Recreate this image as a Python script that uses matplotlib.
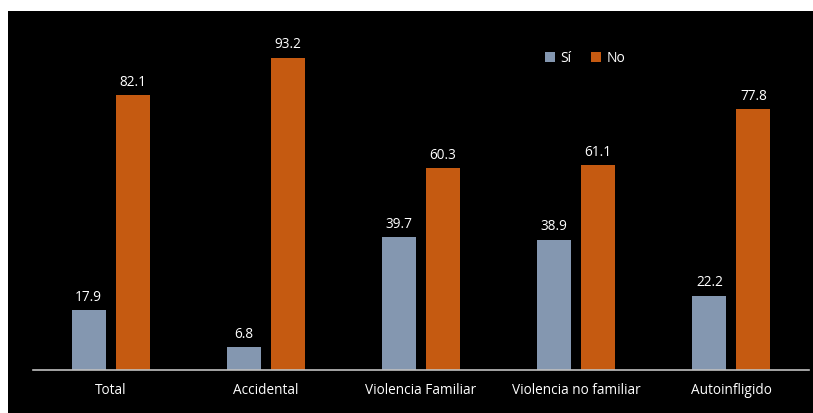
import matplotlib
matplotlib.use("Agg")
import matplotlib.pyplot as plt
import matplotlib.patches as mpatches
import numpy as np

categories = ["Total", "Accidental", "Violencia Familiar", "Violencia no familiar", "Autoinfligido"]
si_values = [17.9, 6.8, 39.7, 38.9, 22.2]
no_values = [82.1, 93.2, 60.3, 61.1, 77.8]
series_names = ["Sí", "No"]

plt.rcParams['font.family'] = ['Open Sans', 'DejaVu Sans']

W, H = 813, 413
fig = plt.figure(figsize=(W/100, H/100), dpi=100, facecolor="white")
# black background panel
fig.patches.append(mpatches.Rectangle((8/W, 0), 1 - 8/W, 1 - 11/H, transform=fig.transFigure,
                                      facecolor="black", edgecolor="none", zorder=-10))

ax = fig.add_axes([33/W, (H-370)/H, (809-33)/W, 335/H])
ax.set_zorder(2)
ax.set_facecolor("none")
x = np.arange(len(categories))
bw = 0.219
off = 0.142
c_si = "#8497B0"
c_no = "#C55A11"
b1 = ax.bar(x - off, si_values, bw, color=c_si, label=series_names[0])
b2 = ax.bar(x + off, no_values, bw, color=c_no, label=series_names[1])
for bars, vals in ((b1, si_values), (b2, no_values)):
    for b, v in zip(bars, vals):
        ax.text(b.get_x() + b.get_width()/2, v + 1.6, f"{v:.1f}", ha="center", va="bottom",
                color="white", fontsize=9.8)
ax.set_xlim(-0.5, len(categories) - 0.5)
ax.set_ylim(0, 100)
ax.set_xticks(x)
ax.set_xticklabels(categories, color="white", fontsize=9.8)
ax.tick_params(axis="x", length=0, pad=9)
ax.set_yticks([])
for s in ["top", "right", "left"]:
    ax.spines[s].set_visible(False)
ax.spines["bottom"].set_color("#BFBFBF")
ax.spines["bottom"].set_linewidth(1.2)

leg = fig.legend(handles=[b1, b2], loc="center", bbox_to_anchor=(585/W, 1 - 58/H), ncol=2,
                 frameon=False, fontsize=10, labelcolor="white", handlelength=0.7, handleheight=0.7,
                 columnspacing=1.4, handletextpad=0.4)
leg.set_zorder(3)

fig.savefig("out.png", dpi=100, facecolor="white")
